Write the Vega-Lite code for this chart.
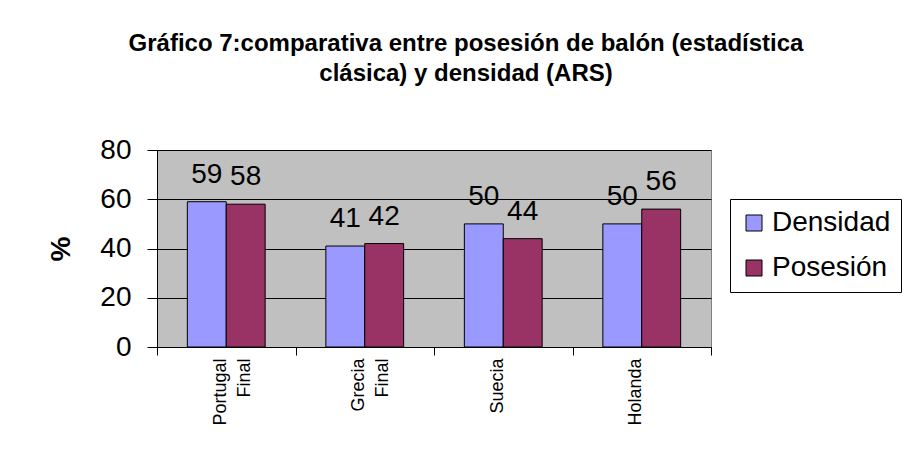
{
  "$schema": "https://vega.github.io/schema/vega-lite/v6.json",
  "width": 554,
  "height": 197,
  "autosize": {"type": "none"},
  "padding": {"left": 157, "top": 150, "right": 202, "bottom": 103},
  "background": "white",
  "title": {
    "text": ["Gráfico 7:comparativa entre posesión de balón (estadística", "clásica) y densidad (ARS)"],
    "font": "Liberation Sans",
    "fontSize": 24,
    "fontWeight": "bold",
    "lineHeight": 30,
    "color": "black",
    "anchor": "middle",
    "dx": 32,
    "offset": 50
  },
  "config": {
    "view": {"fill": "#C0C0C0", "stroke": "#808080", "strokeWidth": 1},
    "font": "Liberation Sans"
  },
  "data": {
    "values": [
      {"pais": "Portugal|Final", "serie": "Densidad", "valor": 59},
      {"pais": "Portugal|Final", "serie": "Posesión", "valor": 58},
      {"pais": "Grecia|Final", "serie": "Densidad", "valor": 41},
      {"pais": "Grecia|Final", "serie": "Posesión", "valor": 42},
      {"pais": "Suecia", "serie": "Densidad", "valor": 50},
      {"pais": "Suecia", "serie": "Posesión", "valor": 44},
      {"pais": "Holanda", "serie": "Densidad", "valor": 50},
      {"pais": "Holanda", "serie": "Posesión", "valor": 56}
    ]
  },
  "encoding": {
    "x": {
      "field": "pais",
      "type": "nominal",
      "sort": null,
      "scale": {"paddingInner": 0, "paddingOuter": 0},
      "axis": {
        "title": null,
        "labelAngle": -90,
        "labelExpr": "split(datum.label, '|')",
        "labelFont": "Liberation Sans",
        "labelFontSize": 18,
        "labelLineHeight": 24,
        "labelColor": "black",
        "labelPadding": 3,
        "labelOffset": -6,
        "tickBand": "extent",
        "tickSize": 8,
        "tickColor": "black",
        "domainColor": "black",
        "grid": false
      }
    },
    "xOffset": {
      "field": "serie",
      "type": "nominal",
      "scale": {"paddingInner": 0, "paddingOuter": 0.78}
    },
    "y": {
      "field": "valor",
      "type": "quantitative",
      "scale": {"domain": [0, 80], "nice": false},
      "axis": {
        "values": [0, 20, 40, 60, 80],
        "title": "%",
        "titleFont": "Liberation Sans",
        "titleFontSize": 28,
        "titleFontWeight": "bold",
        "titleColor": "black",
        "titlePadding": 24,
        "labelFont": "Liberation Sans",
        "labelFontSize": 28,
        "labelColor": "black",
        "labelPadding": 16,
        "tickSize": 10,
        "tickColor": "black",
        "domainColor": "black",
        "grid": true,
        "gridColor": "black",
        "gridOpacity": 1
      }
    }
  },
  "layer": [
    {
      "mark": {"type": "bar", "stroke": "black", "strokeWidth": 1},
      "encoding": {
        "color": {
          "field": "serie",
          "type": "nominal",
          "scale": {"domain": ["Densidad", "Posesión"], "range": ["#9999FF", "#993366"]},
          "legend": {
            "title": null,
            "orient": "none",
            "legendX": 573,
            "legendY": 49,
            "strokeColor": "black",
            "fillColor": "white",
            "padding": 10,
            "cornerRadius": 0,
            "symbolType": "square",
            "symbolSize": 256,
            "symbolStrokeColor": "black",
            "symbolStrokeWidth": 1,
            "symbolOpacity": 1,
            "labelFont": "Liberation Sans",
            "labelFontSize": 28,
            "labelColor": "black",
            "labelLimit": 300,
            "rowPadding": 17
          }
        }
      }
    },
    {
      "mark": {"type": "text", "baseline": "alphabetic", "dy": -19, "fontSize": 28, "font": "Liberation Sans", "color": "black"},
      "encoding": {
        "text": {"field": "valor", "type": "quantitative"}
      }
    }
  ]
}
